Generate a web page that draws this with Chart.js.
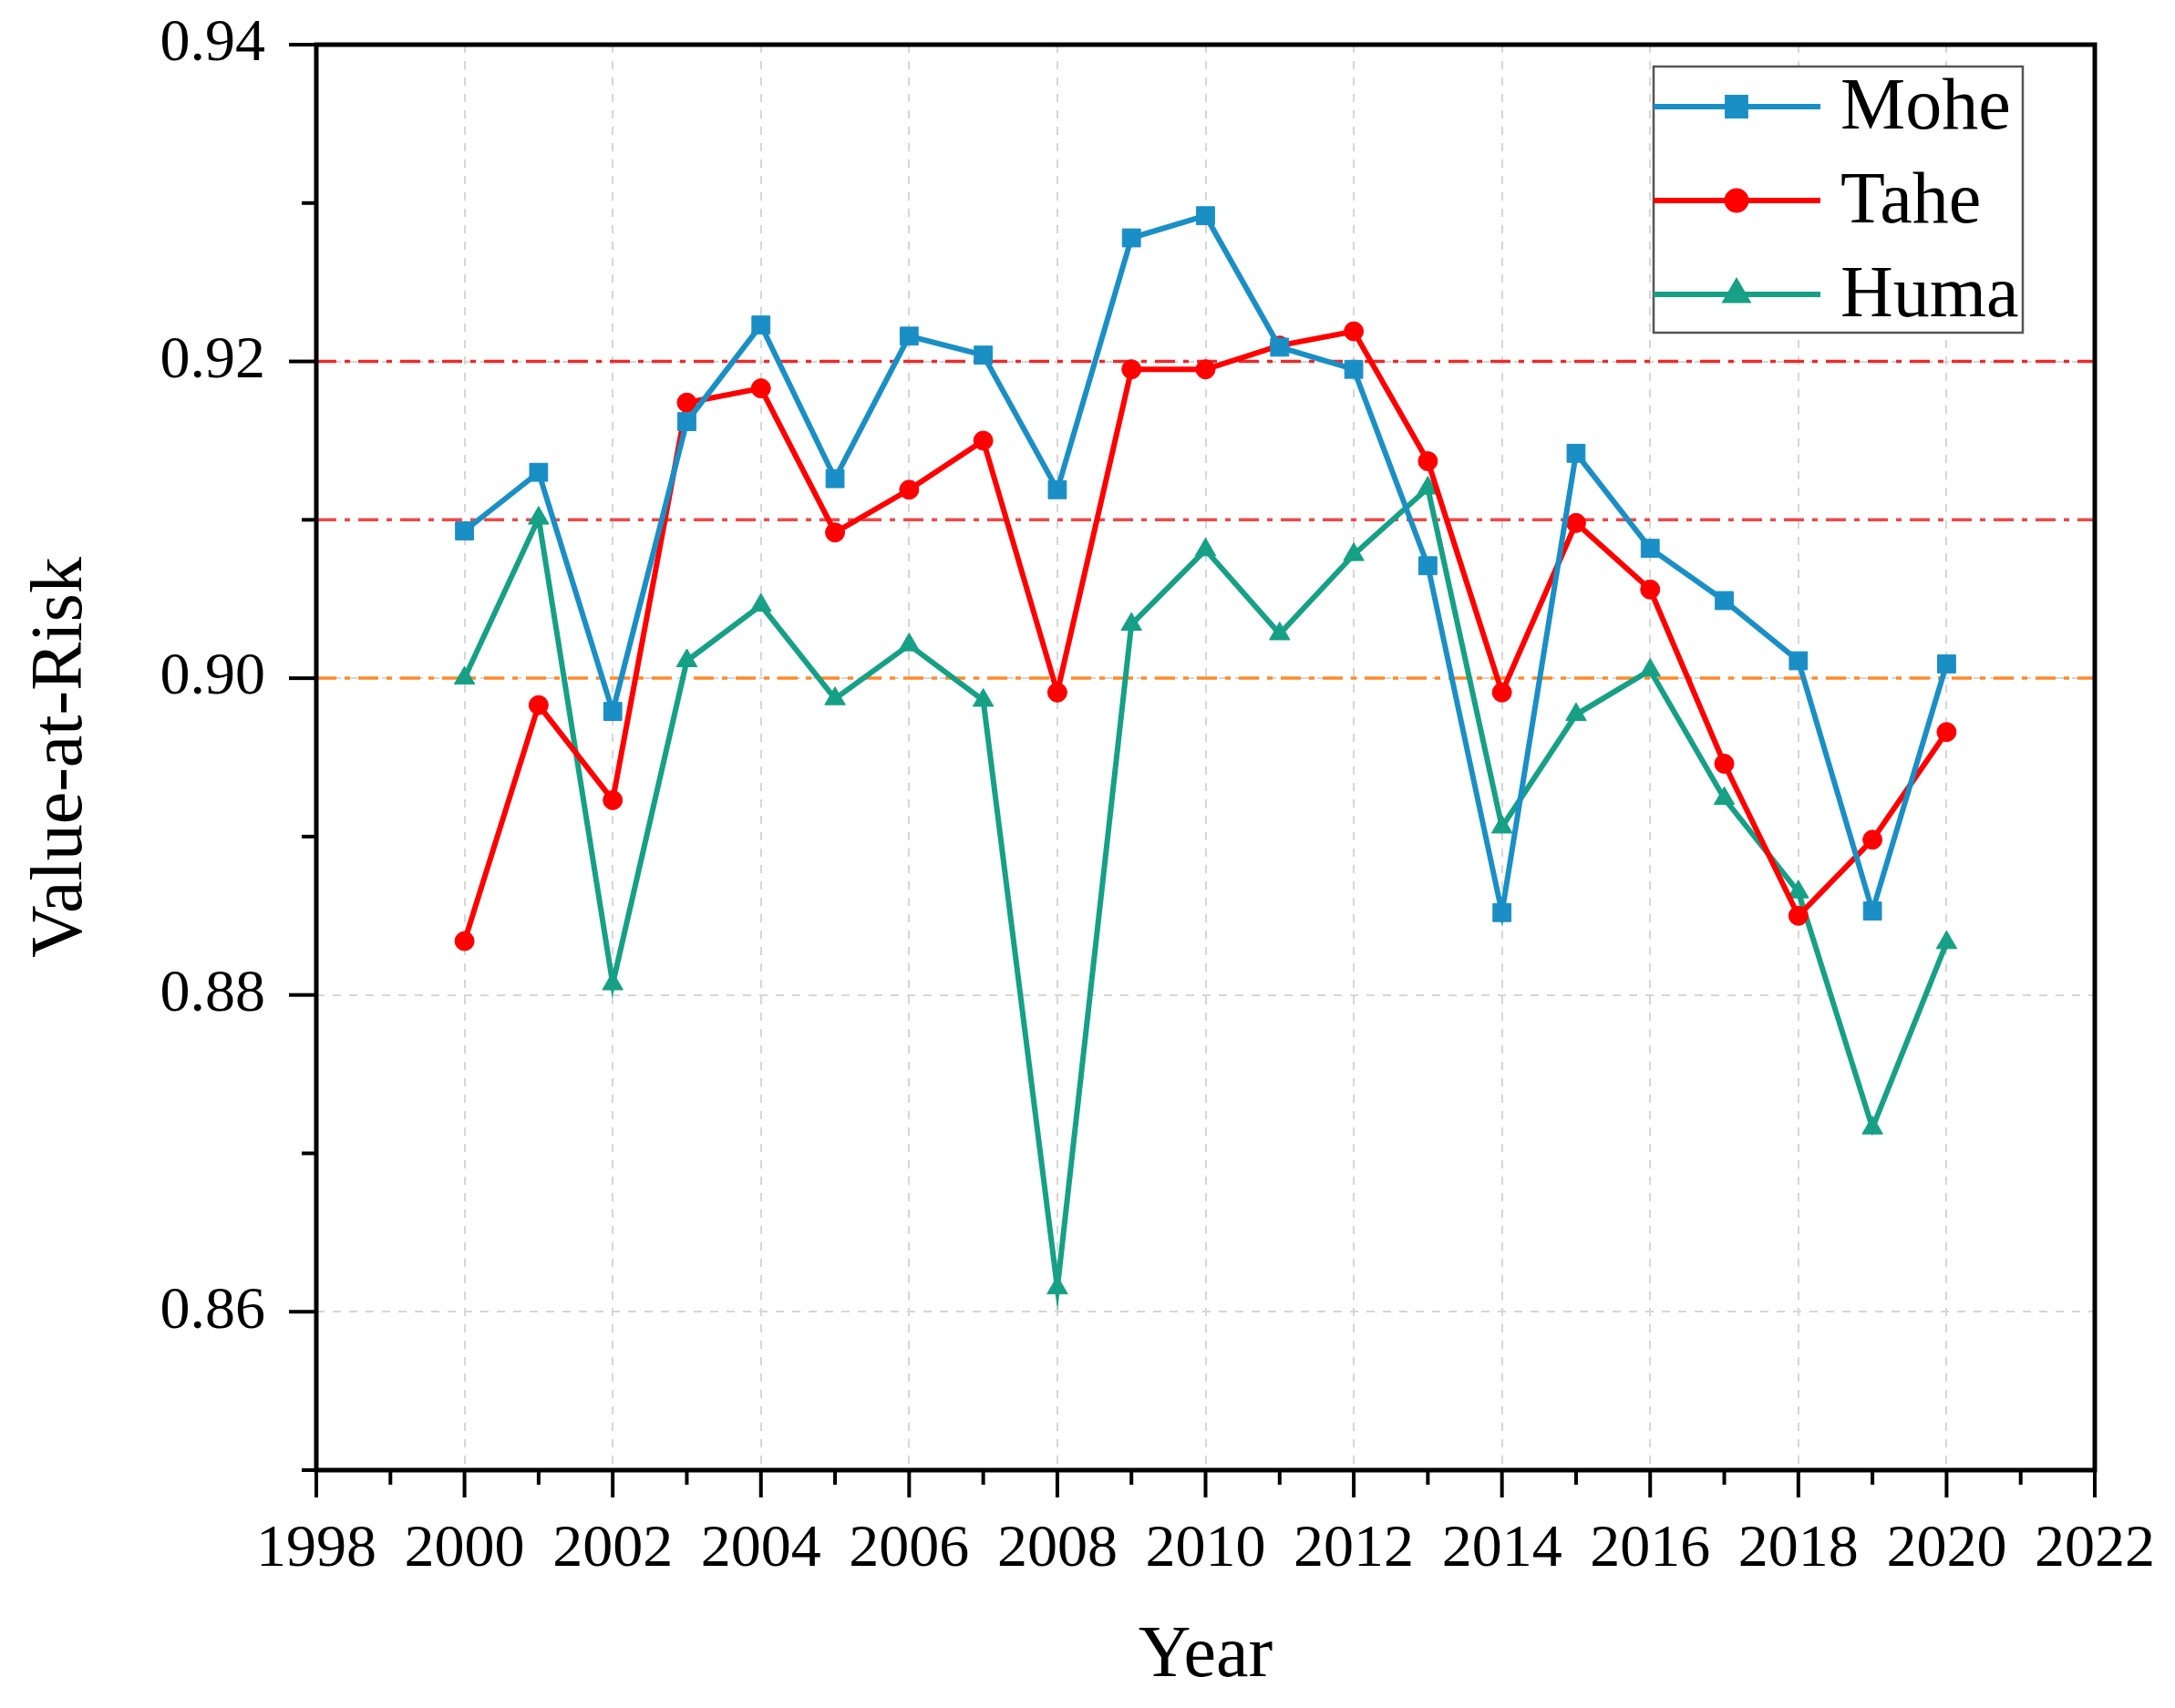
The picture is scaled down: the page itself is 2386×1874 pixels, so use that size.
<!DOCTYPE html>
<html>
<head>
<meta charset="utf-8">
<script src="https://cdn.jsdelivr.net/npm/chart.js@4.4.1/dist/chart.umd.min.js"></script>
<style>
html,body{margin:0;padding:0;background:#fff}
#wrap{width:2386px;height:1874px;position:relative}
</style>
</head>
<body>
<div id="wrap"><canvas id="chart"></canvas></div>
<script>
// dados
const years = [2000,2001,2002,2003,2004,2005,2006,2007,2008,2009,2010,2011,2012,2013,2014,2015,2016,2017,2018,2019,2020];
const moheVals = [0.9093,0.9130,0.8979,0.9162,0.9223,0.9126,0.9216,0.9204,0.9119,0.9278,0.9292,0.9209,0.9195,0.9071,0.8852,0.9142,0.9082,0.9049,0.9011,0.8853,0.9009];
const taheVals = [0.8834,0.8983,0.8923,0.9174,0.9183,0.9092,0.9119,0.9150,0.8991,0.9195,0.9195,0.9210,0.9219,0.9137,0.8991,0.9098,0.9056,0.8946,0.8850,0.8898,0.8966];
const humaVals = [0.9000,0.9101,0.8807,0.9011,0.9046,0.8987,0.9021,0.8986,0.8615,0.9034,0.9081,0.9028,0.9078,0.9120,0.8906,0.8977,0.9005,0.8924,0.8865,0.8716,0.8833];
const seriesNames = ['Mohe','Tahe','Huma'];
const refLevels = [0.92, 0.91, 0.90];
const xTickYears = [1998,2000,2002,2004,2006,2008,2010,2012,2014,2016,2018,2020,2022];
const yTickLabels = ['0.86','0.88','0.90','0.92','0.94'];

const COLORS = { mohe:'#1a8fc6', tahe:'#ff0000', huma:'#16a085', grid:'#d6d6d6' };
const REF_COLORS = ['#ec2a2a','#f04848','#ff8a2a'];
const FONT = "'Liberation Serif', 'Times New Roman', serif";

function pts(vals){ return years.map((y,i)=>({x:y, y:vals[i]})); }
function isMajorY(v){ return Math.round(v*100)%2===0; }
// zera o padding extra que o Chart.js reserva para os rótulos das pontas
function noEdgePad(s){ s.paddingTop=0; s.paddingBottom=0; s.paddingLeft=0; s.paddingRight=0; }

// linhas de referência tracejadas
const refLinesPlugin = {
	id:'refLines',
	beforeDatasetsDraw(chart){
		const {ctx, chartArea:{left,right}, scales:{y}} = chart;
		ctx.save();
		ctx.lineWidth = 3.5;
		ctx.setLineDash([22,9,6,9]);
		refLevels.forEach((lv,i)=>{
			const py = y.getPixelForValue(lv);
			ctx.strokeStyle = REF_COLORS[i];
			ctx.beginPath(); ctx.moveTo(left,py); ctx.lineTo(right,py); ctx.stroke();
		});
		ctx.restore();
	}
};

// moldura + marcas dos eixos
const framePlugin = {
	id:'frame',
	afterDraw(chart){
		const {ctx, chartArea:{left,right,top,bottom}, scales:{x,y}} = chart;
		ctx.save();
		ctx.strokeStyle = '#000';
		ctx.lineWidth = 4;
		for (const t of x.ticks){
			const px = x.getPixelForValue(t.value);
			const len = (t.value%2===0) ? 30 : 16;
			ctx.beginPath(); ctx.moveTo(px,bottom); ctx.lineTo(px,bottom+len); ctx.stroke();
		}
		for (const t of y.ticks){
			const py = y.getPixelForValue(t.value);
			const len = isMajorY(t.value) ? 30 : 16;
			ctx.beginPath(); ctx.moveTo(left,py); ctx.lineTo(left-len,py); ctx.stroke();
		}
		ctx.lineWidth = 5;
		ctx.strokeRect(left,top,right-left,bottom-top);
		ctx.restore();
	}
};

// legenda no canto superior direito
const legendPlugin = {
	id:'boxLegend',
	afterDraw(chart){
		const {ctx, chartArea:{right,top}} = chart;
		const bx = right-484, by = top+24, bw = 405, bh = 292;
		ctx.save();
		ctx.fillStyle = '#fff';
		ctx.fillRect(bx,by,bw,bh);
		ctx.strokeStyle = '#555'; ctx.lineWidth = 2.5;
		ctx.strokeRect(bx,by,bw,bh);
		chart.data.datasets.forEach((ds,i)=>{
			const ry = by + 44 + i*103;
			ctx.strokeStyle = ds.borderColor; ctx.lineWidth = ds.borderWidth;
			ctx.setLineDash([]);
			ctx.beginPath(); ctx.moveTo(bx,ry); ctx.lineTo(bx+183,ry); ctx.stroke();
			ctx.fillStyle = ds.pointBackgroundColor; ctx.strokeStyle = ds.pointBackgroundColor;
			try{ Chart.helpers.drawPoint(ctx,{pointStyle:ds.pointStyle, radius:ds.pointRadius, rotation:0, borderWidth:1}, bx+91, ry); }catch{}
			ctx.fillStyle = '#000';
			ctx.font = '80px '+FONT;
			ctx.textAlign = 'left'; ctx.textBaseline = 'middle';
			ctx.fillText(ds.label, bx+205, ry+3);
		});
		ctx.restore();
	}
};

function mkSet(label, vals, color, style, r){
	return { label, data:pts(vals), borderColor:color, backgroundColor:color,
		pointBackgroundColor:color, pointBorderColor:color, pointBorderWidth:1,
		pointStyle:style, pointRadius:r, pointHoverRadius:r, borderWidth:6, tension:0, fill:false };
}

const ctx = document.getElementById('chart').getContext('2d');
new Chart(ctx, {
	type:'line',
	data:{ datasets:[
		mkSet(seriesNames[0], moheVals, COLORS.mohe, 'rect', 14),
		mkSet(seriesNames[1], taheVals, COLORS.tahe, 'circle', 10.5),
		mkSet(seriesNames[2], humaVals, COLORS.huma, 'triangle', 13)
	]},
	options:{
		responsive:true, maintainAspectRatio:false, animation:false, devicePixelRatio:1,
		layout:{ padding:{ top:49, right:88, left:0, bottom:0 } },
		plugins:{ legend:{display:false}, tooltip:{enabled:false} },
		scales:{
			x:{
				type:'linear', min:1998, max:2022,
				afterFit(s){ s.height = 261; noEdgePad(s); },
				border:{ display:false, dash:[9,9] },
				grid:{ drawTicks:false, lineWidth:2,
					color:(c)=>{ const v=c.tick&&c.tick.value; return (v>1998&&v<2022&&v%2===0) ? COLORS.grid : 'rgba(0,0,0,0)'; } },
				ticks:{ stepSize:1, autoSkip:false, maxRotation:0, padding:48, color:'#000',
					font:{ family:FONT, size:66 },
					callback:(v)=> xTickYears.includes(v) ? String(v) : '' },
				title:{ display:true, text:'Year', color:'#000', font:{ family:FONT, size:80 }, padding:{top:0,bottom:8} }
			},
			y:{
				min:0.85, max:0.94,
				afterFit(s){ s.width = 347; noEdgePad(s); },
				border:{ display:false, dash:[9,9] },
				grid:{ drawTicks:false, lineWidth:2,
					color:(c)=>{ const v=c.tick&&c.tick.value; return (v>0.851&&v<0.939&&isMajorY(v)) ? COLORS.grid : 'rgba(0,0,0,0)'; } },
				ticks:{ stepSize:0.01, autoSkip:false, padding:56, color:'#000',
					font:{ family:FONT, size:66 },
					callback:(v)=>{ const s=Number(v).toFixed(2); return yTickLabels.includes(s) ? s : ''; } },
				title:{ display:true, text:'Value-at-Risk', color:'#000', font:{ family:FONT, size:80 }, padding:{top:20,bottom:0} }
			}
		}
	},
	plugins:[refLinesPlugin, framePlugin, legendPlugin]
});
</script>
</body>
</html>
